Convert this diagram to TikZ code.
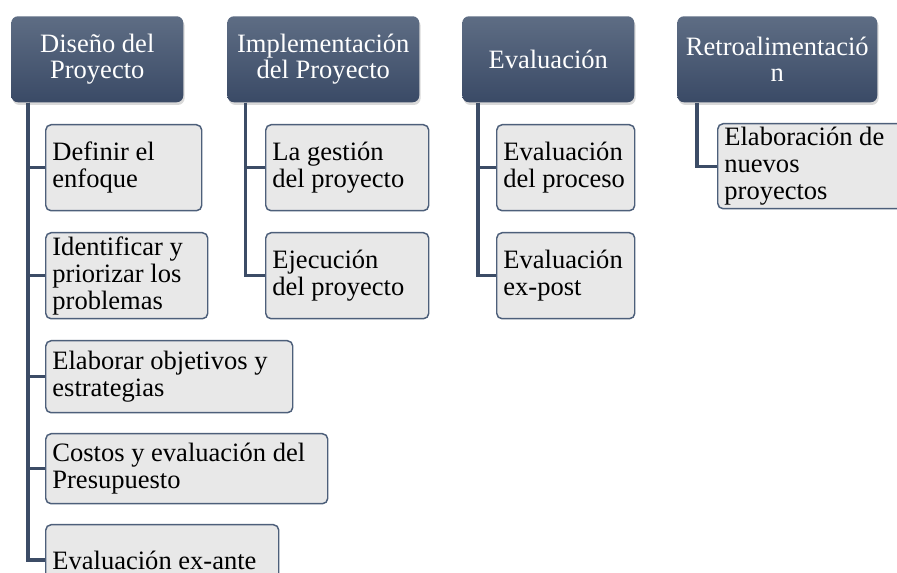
\documentclass[tikz,border=0pt]{standalone}
\usepackage{fontspec}
\setmainfont{Liberation Serif}
\usetikzlibrary{shadows}

\definecolor{jefeA}{RGB}{94,109,132}
\definecolor{jefeB}{RGB}{58,74,102}
\definecolor{rama}{RGB}{60,76,102}
\definecolor{borde}{RGB}{77,95,122}
\definecolor{relleno}{RGB}{232,232,232}

\tikzset{
	jefe/.style={anchor=north west, rounded corners=5pt, top color=jefeA, bottom color=jefeB,
		text=white, align=flush center, minimum height=64.5pt, inner xsep=5pt, inner ysep=1pt,
		font=\fontsize{19.9}{19.8}\selectfont,
		drop shadow={opacity=0.3, shadow xshift=1pt, shadow yshift=-2pt}},
	hijo/.style={anchor=north west, rounded corners=4pt, fill=relleno, draw=borde,
		line width=1.1pt, align=flush left, inner xsep=5pt, inner ysep=1pt,
		font=\fontsize{19.9}{20.3}\selectfont},
	rama/.style={draw=rama, line width=2.4pt}
}

\begin{document}
\begin{tikzpicture}[x=0.75pt, y=-0.75pt]
	\useasboundingbox (0,0) rectangle (897,573);

	\node[jefe, text width=119pt] (dis) at (11,16) {Diseño del\\Proyecto};
	\node[jefe, text width=134pt] (imp) at (227,16) {Implementación\\del Proyecto};
	\node[jefe, text width=119pt] (eva) at (462,16) {Evaluación};
	\node[jefe, text width=140pt] (ret) at (677,16) {Retroalimentació\\n};

	\node[hijo, text width=107pt, minimum height=64.5pt] (dis1) at (45,124) {Definir el\\enfoque};
	\node[hijo, text width=111.5pt, minimum height=64.5pt] (dis2) at (45,232) {Identificar y\\priorizar los\\problemas};
	\node[hijo, text width=175.25pt, minimum height=54pt] (dis3) at (45,340) {Elaborar objetivos y\\estrategias};
	\node[hijo, text width=201.5pt, minimum height=52.5pt] (dis4) at (45,433) {Costos y evaluación del\\Presupuesto};
	\node[hijo, text width=164.75pt, minimum height=53pt] (dis5) at (45,524) {Evaluación ex-ante};

	\node[hijo, text width=112.25pt, minimum height=64.5pt] (imp1) at (265,124) {La gestión\\del proyecto};
	\node[hijo, text width=112.25pt, minimum height=64.5pt] (imp2) at (265,232) {Ejecución\\del proyecto};

	\node[hijo, text width=93.5pt, minimum height=64.5pt] (eva1) at (496,124) {Evaluación\\del proceso};
	\node[hijo, text width=93.5pt, minimum height=64.5pt] (eva2) at (496,232) {Evaluación\\ex-post};

	\node[hijo, text width=162.5pt, minimum height=63.75pt] (ret1) at (717,123) {Elaboración de\\nuevos\\proyectos};

	\foreach \h in {1,...,5}
		\draw[rama] ([xshift=12.75pt]dis.south west) |- (dis\h.west);
	\foreach \h in {1,2}{
		\draw[rama] ([xshift=14pt]imp.south west) |- (imp\h.west);
		\draw[rama] ([xshift=12pt]eva.south west) |- (eva\h.west);
	}
	\draw[rama] ([xshift=15pt]ret.south west) |- (ret1.west);
\end{tikzpicture}
\end{document}
